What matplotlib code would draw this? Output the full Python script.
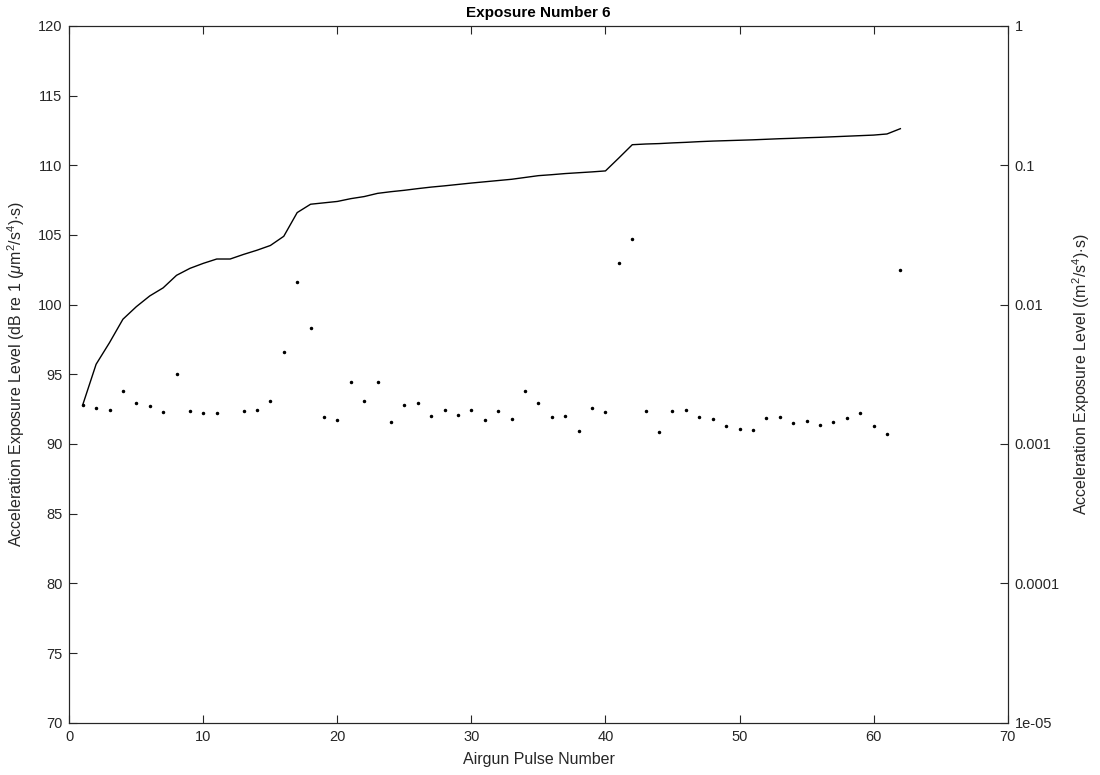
import matplotlib
matplotlib.use('Agg')
import matplotlib.pyplot as plt
import numpy as np
from matplotlib.ticker import FixedLocator, FixedFormatter

plt.rcParams['font.family'] = ['Liberation Sans', 'DejaVu Sans']
plt.rcParams['mathtext.fontset'] = 'custom'
plt.rcParams['mathtext.rm'] = 'Liberation Sans'
plt.rcParams['mathtext.it'] = 'Liberation Sans:italic'

# per-pulse exposure level (dB re 1 um^2/s^4 s), pulse 12 missing
pulse_level = [
    92.8, 92.56, 92.42, 93.78, 92.92, 92.75, 92.27, 95.0, 92.35, 92.2,
    92.2, np.nan, 92.39, 92.42, 93.06, 96.6, 101.6, 98.32, 91.96, 91.7,
    94.47, 93.06, 94.43, 91.6, 92.8, 92.97, 91.99, 92.42, 92.08, 92.42,
    91.72, 92.35, 91.77, 93.8, 92.94, 91.92, 92.01, 90.91, 92.56, 92.3,
    102.96, 104.7, 92.37, 90.84, 92.35, 92.42, 91.94, 91.82, 91.27, 91.1,
    90.98, 91.89, 91.91, 91.48, 91.67, 91.36, 91.56, 91.87, 92.22, 91.29,
    90.72, 102.46,
]

# cumulative exposure level
cumulative_level = [
    92.8, 95.72, 97.27, 98.95, 99.85, 100.62, 101.2, 102.1, 102.6, 102.96,
    103.27, 103.27, 103.6, 103.9, 104.24, 104.9, 106.6, 107.2, 107.3, 107.4,
    107.6, 107.75, 107.98, 108.1, 108.2, 108.32, 108.43, 108.52, 108.62, 108.72,
    108.81, 108.9, 108.99, 109.12, 109.25, 109.32, 109.4, 109.46, 109.52, 109.59,
    110.52, 111.47, 111.52, 111.55, 111.6, 111.64, 111.69, 111.73, 111.76, 111.79,
    111.82, 111.86, 111.9, 111.93, 111.97, 112.0, 112.04, 112.08, 112.12, 112.16,
    112.24, 112.62,
]

pulse = np.arange(1, len(pulse_level) + 1)

right_ticks = [1e-5, 1e-4, 1e-3, 1e-2, 1e-1, 1]
right_labels = ['1e-05', '0.0001', '0.001', '0.01', '0.1', '1']

text_color = '#262626'

fig = plt.figure(figsize=(11, 7.75), dpi=100)
ax = fig.add_axes([0.063, 0.0674, 0.853, 0.8993])

ax.plot(pulse, cumulative_level, color='black', linewidth=1.0)
ax.plot(pulse, pulse_level, linestyle='none', marker='o', markersize=1.5,
        color='black')

ax.set_xlim(0, 70)
ax.set_ylim(70, 120)
ax.set_xticks(np.arange(0, 71, 10))
ax.set_yticks(np.arange(70, 121, 5))
ax.tick_params(direction='in', length=6, width=0.8, labelsize=10.5,
               colors=text_color, top=True, pad=5)
ax.tick_params(axis='y', right=False)
for s in ax.spines.values():
    s.set_color(text_color)
    s.set_linewidth(0.8)

ax.set_xlabel('Airgun Pulse Number', fontsize=11.5, color=text_color,
              labelpad=6)
ax.set_ylabel(r'Acceleration Exposure Level (dB re 1 ($\mu$m$^2$/s$^4$)$\cdot$s)',
              fontsize=11.5, color=text_color, labelpad=8)
ax.set_title('Exposure Number 6', fontsize=11, fontweight='bold',
             color='black', pad=6)

ax2 = ax.twinx()
ax2.set_yscale('log')
ax2.set_ylim(1e-5, 1)
ax2.yaxis.set_major_locator(FixedLocator(right_ticks))
ax2.yaxis.set_major_formatter(FixedFormatter(right_labels))
ax2.yaxis.set_minor_locator(FixedLocator([]))
ax2.tick_params(direction='in', length=6, width=0.8, labelsize=10.5,
                colors=text_color, pad=5)
for s in ax2.spines.values():
    s.set_color(text_color)
    s.set_linewidth(0.8)
ax2.set_ylabel(r'Acceleration Exposure Level ((m$^2$/s$^4$)$\cdot$s)',
               fontsize=11.5, color=text_color, labelpad=8)

fig.savefig('out.png', dpi=100, facecolor='white')
